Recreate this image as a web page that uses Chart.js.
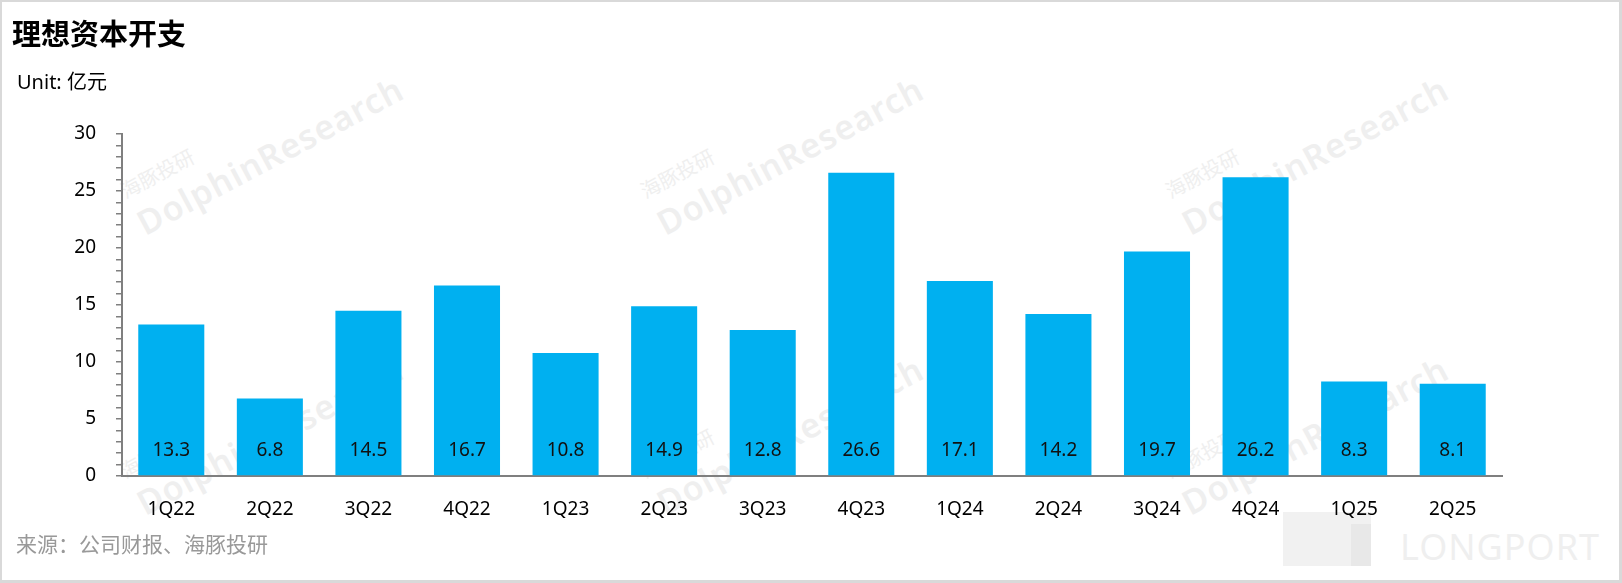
<!DOCTYPE html>
<html lang="zh">
<head>
<meta charset="UTF-8" />
<title>理想资本开支</title>
<style>
  html, body {
    margin: 0;
    padding: 0;
    background: #fff;
  }
  body {
    width: 1622px;
    height: 583px;
    position: relative;
    overflow: hidden;
    font-family: 'Noto Sans', 'Noto Sans CJK SC', sans-serif;
  }
  .frame {
    position: absolute;
    left: 0; top: 0;
    width: 1622px; height: 583px;
    box-sizing: border-box;
    border: 2px solid #d9d9d9;
    border-right-width: 3px;
    border-bottom-width: 3px;
    pointer-events: none;
    z-index: 5;
  }
  .title {
    position: absolute;
    left: 12px; top: 14px;
    font-size: 29px;
    line-height: 36px;
    font-weight: bold;
    font-family: 'Noto Sans CJK SC', sans-serif;
    color: #000;
    z-index: 3;
  }
  .unit {
    position: absolute;
    left: 17px; top: 69px;
    font-size: 20px;
    line-height: 26px;
    color: #000;
    z-index: 3;
  }
  .source {
    position: absolute;
    left: 16px; top: 530px;
    font-size: 21px;
    line-height: 26px;
    color: #999;
    font-family: 'Noto Sans CJK SC', sans-serif;
    z-index: 3;
  }
  .wm {
    position: absolute;
    color: #efefef;
    transform-origin: left bottom;
    transform: rotate(-28deg);
    white-space: nowrap;
    z-index: 0;
  }
  .wm .cn { font-size: 20px; font-family: 'Noto Sans CJK SC', sans-serif; }
  .wm .en { font-size: 34px; font-weight: 600; letter-spacing: 1px; }
  .longport {
    position: absolute;
    left: 1400px; top: 522px;
    font-size: 36px;
    color: #efefef;
    letter-spacing: 1px;
    z-index: 0;
  }
  .lp-block {
    position: absolute;
    background: #f1f1f1;
    z-index: 0;
  }
  #wrap {
    position: absolute;
    left: 0; top: 0;
    width: 1622px; height: 583px;
    z-index: 2;
  }
</style>
</head>
<body>
<div class="wm" style="left:150px; top:170px;"><div class="cn">海豚投研</div><div class="en">DolphinResearch</div></div>
<div class="wm" style="left:670px; top:170px;"><div class="cn">海豚投研</div><div class="en">DolphinResearch</div></div>
<div class="wm" style="left:1195px; top:170px;"><div class="cn">海豚投研</div><div class="en">DolphinResearch</div></div>
<div class="wm" style="left:150px; top:450px;"><div class="cn">海豚投研</div><div class="en">DolphinResearch</div></div>
<div class="wm" style="left:670px; top:450px;"><div class="cn">海豚投研</div><div class="en">DolphinResearch</div></div>
<div class="wm" style="left:1195px; top:450px;"><div class="cn">海豚投研</div><div class="en">DolphinResearch</div></div>
<div class="lp-block" style="left:1283px; top:512px; width:88px; height:54px;"></div>
<div class="lp-block" style="left:1351px; top:524px; width:20px; height:42px; background:#e8e8e8;"></div>
<div class="longport">LONGPORT</div>

<div class="title">理想资本开支</div>
<div class="unit">Unit: 亿元</div>
<div class="source">来源：公司财报、海豚投研</div>

<div id="wrap"><canvas id="capexChart" width="1622" height="583"></canvas></div>
<div class="frame"></div>

<script src="https://cdn.jsdelivr.net/npm/chart.js"></script>
<script>
  const quarters = ['1Q22', '2Q22', '3Q22', '4Q22', '1Q23', '2Q23', '3Q23', '4Q23', '1Q24', '2Q24', '3Q24', '4Q24', '1Q25', '2Q25'];
  const capex = [13.3, 6.8, 14.5, 16.7, 10.8, 14.9, 12.8, 26.6, 17.1, 14.2, 19.7, 26.2, 8.3, 8.1];
  const yMajorTicks = [0, 5, 10, 15, 20, 25, 30];

  const axisGray = '#7f7f7f';
  const fontFamily = "'Noto Sans', 'Noto Sans CJK SC', sans-serif";

  // value labels sit near the bottom of each bar
  const barLabels = {
    id: 'barLabels',
    afterDatasetsDraw(chart) {
      const { ctx, scales: { y } } = chart;
      const meta = chart.getDatasetMeta(0);
      const base = y.getPixelForValue(0);
      ctx.save();
      ctx.font = '19px ' + fontFamily;
      ctx.fillStyle = '#111';
      ctx.textAlign = 'center';
      ctx.textBaseline = 'middle';
      meta.data.forEach((bar, i) => {
        ctx.fillText(capex[i].toFixed(1), bar.x, base - 25);
      });
      ctx.restore();
    }
  };

  const ctx = document.getElementById('capexChart').getContext('2d');
  new Chart(ctx, {
    type: 'bar',
    data: {
      labels: quarters,
      datasets: [{
        data: capex,
        backgroundColor: '#00b0f0',
        borderWidth: 0,
        categoryPercentage: 1,
        barPercentage: 0.67
      }]
    },
    options: {
      responsive: false,
      animation: false,
      layout: { padding: { left: 0, right: 120, top: 134, bottom: 0 } },
      plugins: {
        legend: { display: false },
        tooltip: { enabled: false }
      },
      scales: {
        x: {
          grid: { display: false },
          border: { display: true, color: axisGray, width: 2 },
          ticks: {
            color: '#000',
            font: { size: 19, family: fontFamily },
            padding: 14,
            maxRotation: 0,
            autoSkip: false
          },
          afterFit: scale => { scale.height = 107; }
        },
        y: {
          min: 0,
          max: 30,
          grid: {
            drawOnChartArea: false,
            drawTicks: true,
            tickLength: 6,
            color: axisGray,
            lineWidth: 1.5
          },
          border: { display: true, color: axisGray, width: 2 },
          ticks: {
            stepSize: 1,
            autoSkip: false,
            color: '#000',
            padding: 20,
            font: { size: 19, family: fontFamily },
            callback: v => yMajorTicks.includes(v) ? v : ''
          },
          afterFit: scale => { scale.width = 122; }
        }
      }
    },
    plugins: [barLabels]
  });
</script>
</body>
</html>
